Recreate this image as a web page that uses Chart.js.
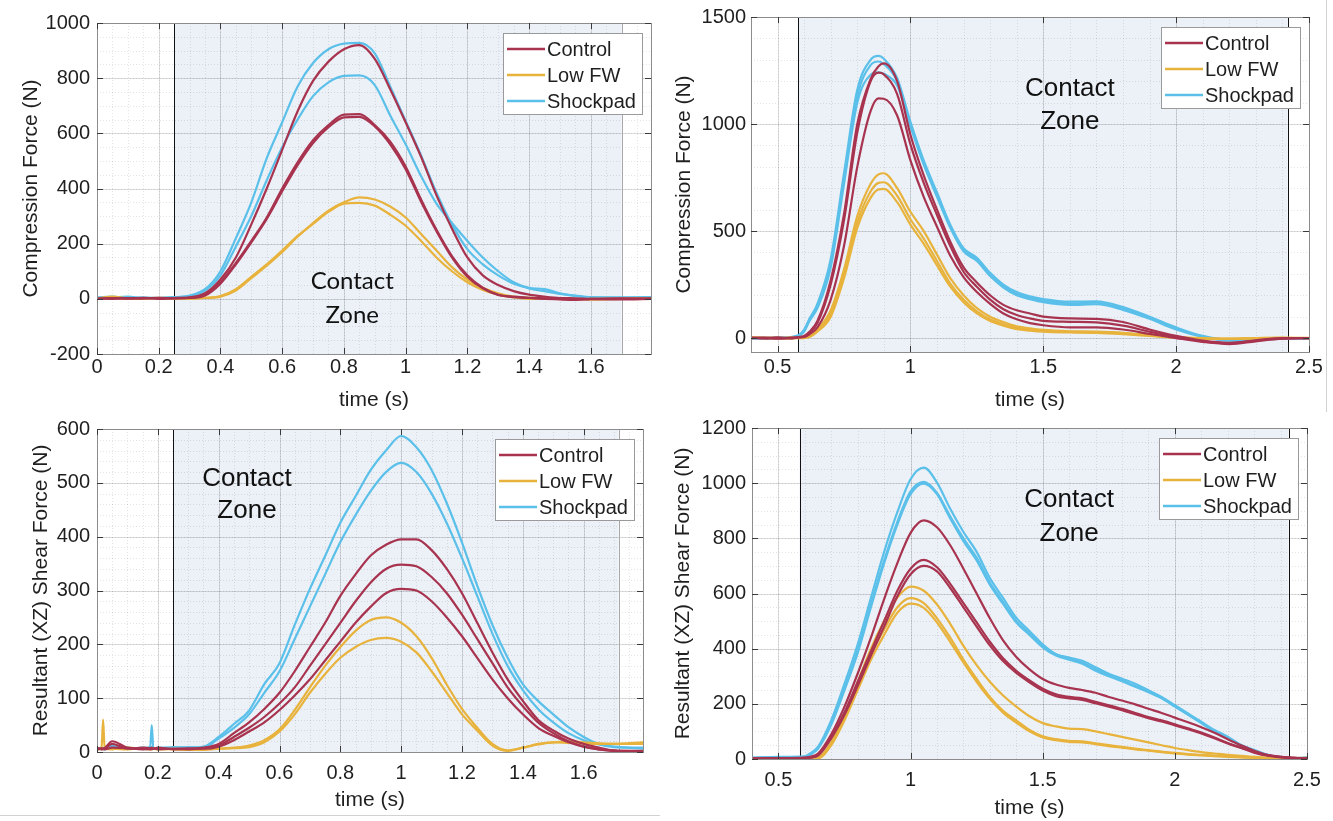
<!DOCTYPE html>
<html>
<head>
<meta charset="utf-8">
<title>Force curves</title>
<script src="https://cdn.jsdelivr.net/npm/chart.js@4.4.1/dist/chart.umd.min.js"></script>
<style>
  body { margin: 0; background: #fff; }
  #page { position: relative; width: 1333px; height: 821px; overflow: hidden; }
  #page canvas { position: absolute; }
  .rule { position: absolute; background: #d2d2d2; }
</style>
</head>
<body>
<div id="page">
  <canvas id="c1" width="660" height="420" style="left:0px;top:0px"></canvas>
  <canvas id="c2" width="673" height="420" style="left:660px;top:0px"></canvas>
  <canvas id="c3" width="660" height="411" style="left:0px;top:410px"></canvas>
  <canvas id="c4" width="673" height="411" style="left:660px;top:410px"></canvas>
  <div class="rule" style="left:1326px;top:0px;width:1px;height:412px"></div>
  <div class="rule" style="left:0px;top:815px;width:660px;height:1px"></div>
</div>
<script>
const seriesNames = ['Control', 'Low FW', 'Shockpad'];
const seriesColors = ['#a8334f', '#e8b33c', '#5bc0e9'];

// --- top left: compression force, first surface set
const t1 = [0,0.05,0.1,0.15,0.2,0.25,0.3,0.35,0.4,0.45,0.5,0.55,0.6,0.65,0.7,0.75,0.8,0.85,0.9,0.95,1.0,1.05,1.1,1.15,1.2,1.25,1.3,1.35,1.4,1.45,1.5,1.55,1.6,1.7,1.795];
const ctrl1a = [0,3,2,4,2,3,5,20,70,150,270,400,540,680,790,860,905,920,870,760,640,515,375,255,150,85,50,28,15,8,3,2,0,-2,0];
const ctrl1b = [2,0,3,1,4,2,4,15,60,130,210,295,400,495,575,630,668,670,630,570,480,360,250,155,85,40,15,8,4,2,0,-3,0,2,0];
const ctrl1c = [0,2,1,3,0,2,3,12,55,125,205,290,390,485,565,622,658,660,625,560,470,352,245,150,80,38,14,6,3,0,-2,-4,-1,0,2];
const low1a = [3,5,0,2,4,2,0,3,8,30,75,120,170,225,275,320,350,368,360,335,295,235,175,115,70,40,20,8,4,3,2,0,-3,0,2];
const low1b = [0,8,2,0,3,0,2,4,10,35,80,125,175,228,272,315,345,348,338,305,265,210,150,100,60,32,15,5,0,2,0,-2,0,1,0];
const shock1a = [5,8,3,5,2,5,12,35,100,220,350,510,640,770,855,905,925,928,890,770,645,520,385,270,180,125,85,55,40,35,20,10,5,5,5];
const shock1b = [3,5,8,2,4,6,10,30,85,190,300,430,550,650,735,785,808,810,775,665,560,445,345,275,210,150,100,60,38,28,18,12,6,4,6];
const xTicks1 = [0,0.2,0.4,0.6,0.8,1,1.2,1.4,1.6];
const yTicks1 = [-200,0,200,400,600,800,1000];
const zone1 = [0.25, 1.70];
const note1 = [[0.827, 62, 'Contact'], [0.827, -58, 'Zone']];

// --- top right: compression force, second set
const t2 = [0.4,0.45,0.5,0.55,0.58,0.6,0.62,0.65,0.7,0.75,0.8,0.85,0.88,0.9,0.95,1.0,1.05,1.1,1.15,1.2,1.25,1.3,1.35,1.4,1.45,1.5,1.6,1.7,1.8,1.9,2.0,2.1,2.2,2.3,2.4,2.5];
const ctrl2a = [0,-2,3,0,5,10,30,80,270,580,1000,1210,1270,1283,1200,950,760,600,450,330,260,200,155,130,115,100,92,90,75,40,10,-12,-22,-10,0,0];
const ctrl2b = [2,0,-3,2,4,8,25,70,250,550,960,1200,1240,1232,1140,905,725,575,430,310,240,180,135,108,92,80,76,73,58,30,5,-15,-25,-12,-2,0];
const ctrl2c = [0,2,0,-2,3,5,18,50,180,430,800,1060,1120,1118,1040,830,660,520,385,285,215,160,115,88,70,60,50,50,40,20,0,-18,-28,-15,-3,0];
const low2a = [3,0,2,-2,0,2,10,40,130,320,570,720,765,770,700,590,500,390,280,200,140,100,75,55,45,38,32,30,25,15,5,0,-2,0,2,0];
const low2b = [0,2,0,3,0,1,8,35,115,300,540,685,725,728,665,555,465,360,255,180,125,88,65,48,40,34,29,27,22,12,3,-2,-3,0,1,0];
const low2c = [2,0,-2,0,2,0,5,30,100,280,515,655,695,697,635,530,440,340,240,168,115,80,58,42,35,30,26,24,18,10,2,-3,-4,-1,0,1];
const shock2a = [2,-3,2,5,15,40,90,160,370,770,1160,1300,1318,1305,1215,1010,830,680,530,420,375,305,250,215,195,182,170,172,145,100,50,10,-8,-5,0,-2];
const shock2b = [0,2,-2,3,12,35,85,150,350,740,1130,1275,1292,1280,1200,1000,820,670,520,410,368,298,243,208,188,175,162,165,138,95,45,8,-10,-6,-2,0];
const shock2c = [-2,0,3,0,10,30,80,140,330,720,1100,1230,1242,1235,1180,990,810,660,515,405,360,290,236,200,182,168,155,158,132,90,40,5,-12,-8,-3,-1];
const xTicks2 = [0.5,1,1.5,2,2.5];
const yTicks2 = [0,500,1000,1500];
const zone2 = [0.576, 2.42];
const note2 = [[1.60, 1163, 'Contact'], [1.60, 1009, 'Zone']];

// --- bottom left: resultant shear force, first set
const t3 = [0,0.015,0.02,0.025,0.05,0.1,0.15,0.175,0.18,0.185,0.2,0.25,0.3,0.35,0.4,0.45,0.5,0.55,0.6,0.65,0.7,0.75,0.8,0.85,0.9,0.95,1.0,1.05,1.1,1.15,1.2,1.25,1.3,1.35,1.4,1.45,1.5,1.55,1.6,1.65,1.7,1.795];
const ctrl3a = [8,5,6,7,20,8,6,5,7,6,8,5,6,8,15,35,55,80,110,150,195,240,290,330,365,385,395,395,375,340,295,240,185,135,95,60,40,25,15,8,2,0];
const ctrl3b = [6,7,5,6,15,6,8,7,5,6,7,6,5,7,12,28,45,65,90,120,160,200,240,280,315,340,348,345,325,295,255,210,165,120,85,55,35,20,10,5,2,0];
const ctrl3c = [5,6,7,5,8,7,5,6,8,7,5,6,7,6,10,22,38,55,78,105,135,170,205,240,270,295,303,300,280,250,215,175,135,100,70,45,30,18,10,5,3,2];
const low3a = [5,8,60,8,6,5,7,6,5,7,6,5,4,5,6,8,12,22,42,78,120,160,195,225,245,250,240,215,175,125,80,45,15,3,8,15,18,20,18,16,15,15];
const low3b = [6,5,7,6,5,8,6,5,7,6,5,6,5,4,6,7,9,18,38,70,110,145,175,195,208,212,205,185,150,110,70,40,12,2,8,14,18,17,16,15,15,18];
const shock3a = [5,8,6,9,12,8,6,10,50,8,7,9,8,10,28,52,77,126,165,236,303,364,426,475,524,560,587,566,524,462,389,309,236,175,126,95,70,46,28,15,9,8];
const shock3b = [6,5,7,5,10,6,8,7,9,6,8,7,9,8,25,45,70,110,150,210,270,330,390,440,485,520,537,520,480,425,360,290,220,160,115,80,55,35,22,14,10,6];
const xTicks3 = [0,0.2,0.4,0.6,0.8,1,1.2,1.4,1.6];
const yTicks3 = [0,100,200,300,400,500,600];
const zone3 = [0.25, 1.715];
const note3 = [[0.493, 508, 'Contact'], [0.493, 448, 'Zone']];

// --- bottom right: resultant shear force, second set
const t4 = [0.4,0.5,0.6,0.62,0.65,0.7,0.75,0.8,0.85,0.9,0.95,1.0,1.05,1.1,1.15,1.2,1.25,1.3,1.35,1.4,1.45,1.5,1.55,1.6,1.65,1.7,1.75,1.8,1.85,1.9,1.95,2.0,2.05,2.1,2.15,2.2,2.25,2.3,2.35,2.4,2.45,2.5];
const ctrl4a = [2,3,5,8,20,90,190,310,440,580,710,820,865,840,775,690,600,510,430,370,325,290,270,258,250,240,225,212,198,182,167,150,133,115,95,72,50,30,15,8,5,2];
const ctrl4b = [3,2,4,6,15,80,170,280,390,500,610,690,722,695,635,565,495,425,365,320,285,255,235,225,220,207,195,182,167,152,140,126,111,96,78,58,42,25,14,8,4,3];
const ctrl4c = [1,3,2,5,12,75,160,265,375,480,590,670,700,680,620,550,480,412,355,312,278,248,228,220,214,202,190,177,162,148,136,122,108,93,75,56,40,23,12,6,3,2];
const low4a = [0,2,3,2,5,60,160,280,400,500,585,625,610,560,490,410,340,280,230,190,155,130,118,110,108,100,90,80,70,60,50,40,32,25,20,15,11,8,5,3,2,5];
const low4b = [2,1,2,3,4,55,150,265,380,470,550,583,565,510,440,360,290,225,175,140,105,82,72,66,64,57,50,44,38,32,27,22,18,15,12,10,7,5,3,2,1,3];
const low4c = [1,2,0,2,3,50,140,250,360,450,530,563,548,495,425,350,280,218,168,132,100,78,68,62,60,54,47,41,35,30,25,20,16,13,10,8,6,4,2,1,2,2];
const shock4a = [5,8,10,20,45,141,273,416,584,751,895,1014,1056,1002,907,823,751,656,584,512,464,416,380,368,356,333,309,291,273,249,225,195,165,135,105,81,51,33,15,5,3,5];
const shock4b = [3,5,8,18,40,130,255,395,560,720,860,970,1005,965,880,800,730,640,570,500,455,410,380,365,350,325,305,285,265,245,222,192,162,132,102,78,50,30,15,5,2,4];
const shock4c = [4,6,7,15,38,125,250,385,550,710,850,960,998,960,872,790,720,632,562,495,450,405,375,360,345,320,300,282,262,242,220,190,160,130,100,76,48,28,14,4,3,5];
const xTicks4 = [0.5,1,1.5,2,2.5];
const yTicks4 = [0,200,400,600,800,1000,1200];
const zone4 = [0.58, 2.43];
const note4 = [[1.60, 938, 'Contact'], [1.60, 816, 'Zone']];

const AXIS_FONT = 'Liberation Sans, Arial, Helvetica, sans-serif';
const TEXT = '#1f1f1f';

const panels = [
  { id: 'c1', t: t1, groups: [[ctrl1a, ctrl1b, ctrl1c], [low1a, low1b], [shock1a, shock1b]],
    xMin: 0, xMax: 1.795, yMin: -200, yMax: 1000, xTicks: xTicks1, yTicks: yTicks1, xMinor: 0.05, yMinor: 50,
    zone: zone1, zoneEnd: '#a8a8a8', notes: note1, noteFont: '24px Lato, Carlito, sans-serif',
    yTitle: 'Compression Force (N)', pad: { left: 0, right: 9, top: 23, bottom: 0 },
    yW: 97, xH: 66, xTickPad: 1, xTitlePad: 7, yTickPad: 7, yTitlePad: 19 },
  { id: 'c2', t: t2, groups: [[ctrl2a, ctrl2b, ctrl2c], [low2a, low2b, low2c], [shock2a, shock2b, shock2c]],
    xMin: 0.4, xMax: 2.5, yMin: -65, yMax: 1500, xTicks: xTicks2, yTicks: yTicks2, xMinor: 0.1, yMinor: 100,
    zone: zone2, zoneEnd: '#111', notes: note2, noteFont: '26px ' + AXIS_FONT,
    yTitle: 'Compression Force (N)', pad: { left: 0, right: 24, top: 17, bottom: 0 },
    yW: 91, xH: 68, xTickPad: 3, xTitlePad: 7, yTickPad: 5, yTitlePad: 12 },
  { id: 'c3', t: t3, groups: [[ctrl3a, ctrl3b, ctrl3c], [low3a, low3b], [shock3a, shock3b]],
    xMin: 0, xMax: 1.795, yMin: 0, yMax: 600, xTicks: xTicks3, yTicks: yTicks3, xMinor: 0.05, yMinor: 20,
    zone: zone3, zoneEnd: '#a8a8a8', notes: note3, noteFont: '26px ' + AXIS_FONT,
    yTitle: 'Resultant (XZ) Shear Force (N)', pad: { left: 0, right: 17, top: 15, bottom: 0 },
    yW: 97, xH: 69, xTickPad: 9, xTitlePad: 8, yTickPad: 7, yTitlePad: 29 },
  { id: 'c4', t: t4, groups: [[ctrl4a, ctrl4b, ctrl4c], [low4a, low4b, low4c], [shock4a, shock4b, shock4c]],
    xMin: 0.4, xMax: 2.5, yMin: 0, yMax: 1200, xTicks: xTicks4, yTicks: yTicks4, xMinor: 0.1, yMinor: 50,
    zone: zone4, zoneEnd: '#111', notes: note4, noteFont: '26px ' + AXIS_FONT,
    yTitle: 'Resultant (XZ) Shear Force (N)', pad: { left: 0, right: 26, top: 15, bottom: 0 },
    yW: 92, xH: 62, xTickPad: 9, xTitlePad: 0, yTickPad: 6, yTitlePad: 11 }
];

function steps(min, max, step) {
  const out = [];
  for (let k = Math.ceil(min / step - 1e-9); k * step <= max + 1e-9; k++) out.push(k * step);
  return out;
}
const crisp = v => Math.round(v) + 0.5;

// background shading, grid, zone boundaries
const backPlugin = {
  id: 'back',
  beforeDatasetsDraw(chart) {
    const p = chart.options.plugins.back;
    const { ctx, chartArea: a, scales: { x, y } } = chart;
    ctx.save();
    ctx.beginPath();
    ctx.rect(a.left, a.top, a.right - a.left, a.bottom - a.top);
    ctx.clip();
    const z0 = x.getPixelForValue(p.zone[0]);
    const z1 = x.getPixelForValue(p.zone[1]);
    ctx.fillStyle = '#ecf1f8';
    ctx.fillRect(z0, a.top, z1 - z0, a.bottom - a.top);

    ctx.lineWidth = 1;
    ctx.strokeStyle = 'rgba(0,0,0,0.10)';
    ctx.setLineDash([1, 2]);
    ctx.beginPath();
    steps(p.xMin, p.xMax, p.xMinor).forEach(v => {
      const px = crisp(x.getPixelForValue(v));
      ctx.moveTo(px, a.top); ctx.lineTo(px, a.bottom);
    });
    steps(p.yMin, p.yMax, p.yMinor).forEach(v => {
      const py = crisp(y.getPixelForValue(v));
      ctx.moveTo(a.left, py); ctx.lineTo(a.right, py);
    });
    ctx.stroke();

    ctx.setLineDash([]);
    ctx.strokeStyle = 'rgba(0,0,0,0.13)';
    ctx.beginPath();
    p.xTicks.forEach(v => {
      const px = crisp(x.getPixelForValue(v));
      ctx.moveTo(px, a.top); ctx.lineTo(px, a.bottom);
    });
    p.yTicks.forEach(v => {
      const py = crisp(y.getPixelForValue(v));
      ctx.moveTo(a.left, py); ctx.lineTo(a.right, py);
    });
    ctx.stroke();

    ctx.strokeStyle = '#111';
    ctx.beginPath();
    ctx.moveTo(crisp(z0), a.top); ctx.lineTo(crisp(z0), a.bottom);
    ctx.stroke();
    ctx.strokeStyle = p.zoneEnd;
    ctx.beginPath();
    ctx.moveTo(crisp(z1), a.top); ctx.lineTo(crisp(z1), a.bottom);
    ctx.stroke();
    ctx.restore();
  }
};

// axes box, inward ticks, legend and zone text
const frontPlugin = {
  id: 'front',
  afterDatasetsDraw(chart) {
    const p = chart.options.plugins.back;
    const { ctx, chartArea: a, scales: { x, y } } = chart;
    ctx.save();
    ctx.strokeStyle = '#8c8c8c';
    ctx.lineWidth = 1;
    ctx.strokeRect(crisp(a.left), crisp(a.top), Math.round(a.right - a.left), Math.round(a.bottom - a.top));

    const tl = 6;
    ctx.strokeStyle = '#3a3a3a';
    ctx.beginPath();
    p.xTicks.forEach(v => {
      const px = crisp(x.getPixelForValue(v));
      ctx.moveTo(px, a.bottom); ctx.lineTo(px, a.bottom - tl);
      ctx.moveTo(px, a.top); ctx.lineTo(px, a.top + tl);
    });
    p.yTicks.forEach(v => {
      const py = crisp(y.getPixelForValue(v));
      ctx.moveTo(a.left, py); ctx.lineTo(a.left + tl, py);
      ctx.moveTo(a.right, py); ctx.lineTo(a.right - tl, py);
    });
    ctx.stroke();

    // zone label
    ctx.fillStyle = '#111';
    ctx.font = p.noteFont;
    ctx.textAlign = 'center';
    ctx.textBaseline = 'middle';
    p.notes.forEach(([nx, ny, txt]) => {
      ctx.fillText(txt, x.getPixelForValue(nx), y.getPixelForValue(ny));
    });

    // legend
    const bw = 139, bh = 81;
    const bx = Math.round(a.right - 9 - bw), by = Math.round(a.top + 10);
    ctx.fillStyle = '#fff';
    ctx.fillRect(bx, by, bw, bh);
    ctx.strokeStyle = '#9a9a9a';
    ctx.strokeRect(bx + 0.5, by + 0.5, bw, bh);
    ctx.font = '20px ' + AXIS_FONT;
    ctx.textAlign = 'left';
    seriesNames.forEach((name, i) => {
      const ry = by + 16 + i * 26;
      ctx.strokeStyle = seriesColors[i];
      ctx.lineWidth = 2.5;
      ctx.beginPath();
      ctx.moveTo(bx + 4, ry); ctx.lineTo(bx + 42, ry);
      ctx.stroke();
      ctx.fillStyle = TEXT;
      ctx.fillText(name, bx + 44, ry + 1);
    });
    ctx.restore();
  }
};

const fmt = v => String(+Number(v).toFixed(2));

panels.forEach(p => {
  const datasets = [];
  p.groups.forEach((runs, g) => {
    runs.forEach(vals => {
      datasets.push({
        label: seriesNames[g],
        data: p.t.map((tx, i) => ({ x: tx, y: vals[i] })),
        borderColor: seriesColors[g],
        borderWidth: 2.2,
        pointRadius: 0,
        cubicInterpolationMode: 'monotone',
        fill: false
      });
    });
  });

  new Chart(document.getElementById(p.id), {
    type: 'line',
    data: { datasets },
    options: {
      responsive: false,
      animation: false,
      devicePixelRatio: 1,
      layout: { padding: p.pad },
      plugins: {
        legend: { display: false },
        tooltip: { enabled: false },
        back: p
      },
      scales: {
        x: {
          type: 'linear',
          min: p.xMin,
          max: p.xMax,
          afterBuildTicks: s => { s.ticks = p.xTicks.map(v => ({ value: v })); },
          afterFit: s => { s.height = p.xH; },
          grid: { display: false, drawTicks: false },
          border: { display: false },
          ticks: { font: { family: AXIS_FONT, size: 20 }, color: TEXT, padding: p.xTickPad,
                   maxRotation: 0, autoSkip: false, callback: fmt },
          title: { display: true, text: 'time (s)', color: TEXT,
                   font: { family: AXIS_FONT, size: 21 }, padding: { top: 0, bottom: p.xTitlePad } }
        },
        y: {
          min: p.yMin,
          max: p.yMax,
          afterBuildTicks: s => { s.ticks = p.yTicks.map(v => ({ value: v })); },
          afterFit: s => { s.width = p.yW; },
          grid: { display: false, drawTicks: false },
          border: { display: false },
          ticks: { font: { family: AXIS_FONT, size: 20 }, color: TEXT, padding: p.yTickPad,
                   autoSkip: false, callback: fmt },
          title: { display: true, text: p.yTitle, color: TEXT,
                   font: { family: AXIS_FONT, size: 21 }, padding: { top: p.yTitlePad, bottom: 0 } }
        }
      }
    },
    plugins: [backPlugin, frontPlugin]
  });
});
</script>
</body>
</html>
